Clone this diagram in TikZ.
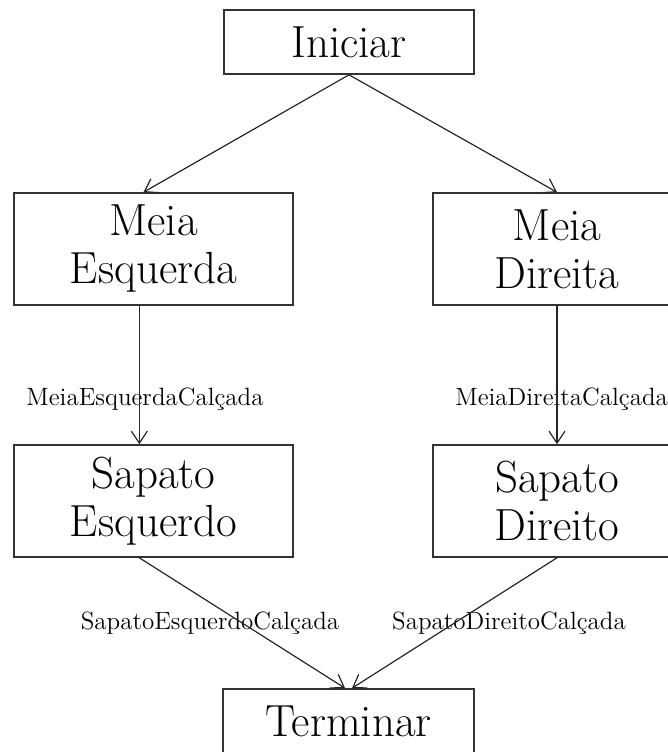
\documentclass[tikz,border=0pt]{standalone}
\usetikzlibrary{arrows.meta}
\begin{document}
\begin{tikzpicture}[x=0.5pt,y=-0.5pt,
  state/.style={draw=black!80,line width=0.8pt,align=center,inner sep=0pt,
    font=\fontsize{22.5}{24}\selectfont},
  trans/.style={inner sep=0pt,font=\fontsize{12.5}{14}\selectfont},
  >={Straight Barb[length=6pt,width=8pt]}]

  \useasboundingbox (0,0) rectangle (668,752);

  % states
  \node[state,minimum width=125pt,minimum height=32pt] (ini) at (349,42) {Iniciar};
  \node[state,minimum width=139.5pt,minimum height=56pt] (me) at (153.5,249) {Meia\\Esquerda};
  \node[state,minimum width=124pt,minimum height=56pt] (md) at (557,249) {Meia\\Direita};
  \node[state,minimum width=139.5pt,minimum height=56pt] (se) at (153.5,501) {Sapato\\Esquerdo};
  \node[state,minimum width=124pt,minimum height=56pt] (sd) at (557,501) {Sapato\\Direito};
  \node[state,minimum width=125.5pt,minimum height=32pt] (term) at (348.5,721) {Terminar};

  % transition labels
  \node[trans] (lme) at (145,399) {MeiaEsquerdaCalçada};
  \node[trans,anchor=west] (lmd) at (455,399) {MeiaDireitaCalçada};
  \node[trans] (lse) at (210,623) {SapatoEsquerdoCalçada};
  \node[trans] (lsd) at (509,623) {SapatoDireitoCalçada};

  \begin{scope}[line width=0.6pt,black!85]
    \draw[->] (ini.south) -- (me.100);
    \draw[->] (ini.south) -- (md.north);
    \draw[->] (me.256) -- (se.104);
    \draw[->] (md.south) -- (sd.north);
    \draw[->] (se.256) -- (term.96);
    \draw[->] (sd.south) -- (term.84);
  \end{scope}

\end{tikzpicture}
\end{document}
